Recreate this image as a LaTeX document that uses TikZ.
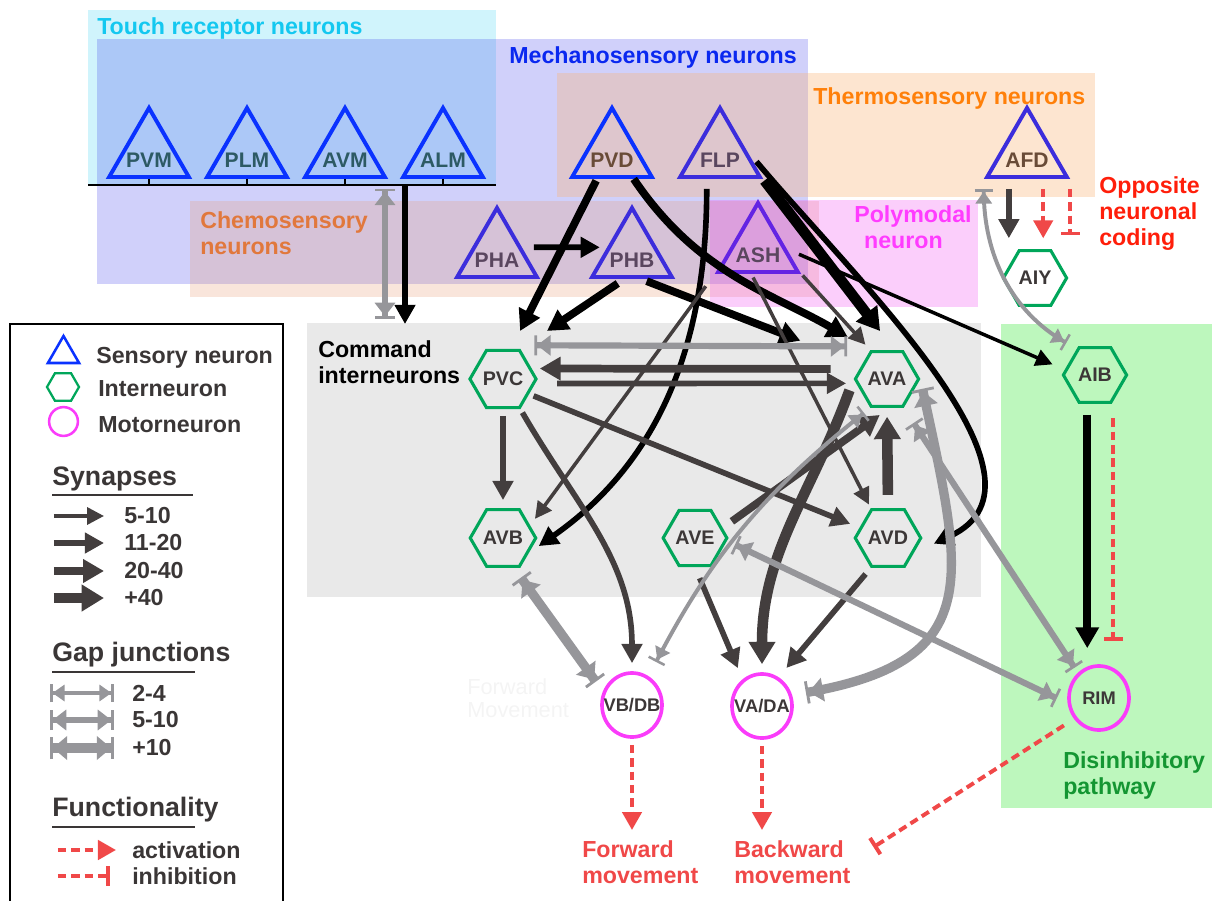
\documentclass[tikz,border=0pt]{standalone}
\usepackage{fontspec}
\setmainfont{Liberation Sans}
\usepackage{tikz}
\usetikzlibrary{shapes.geometric,arrows.meta}

\definecolor{sensblue}{RGB}{10,50,255}
\definecolor{sensviolet}{RGB}{60,45,220}
\definecolor{intgreen}{RGB}{0,166,90}
\definecolor{motmag}{RGB}{250,60,250}
\definecolor{syngray}{RGB}{67,62,62}
\definecolor{gapgray}{RGB}{150,150,154}
\definecolor{actred}{RGB}{240,72,72}
\definecolor{txtgray}{RGB}{58,54,54}
\definecolor{nodetxt}{RGB}{60,55,55}
\definecolor{tealtxt}{RGB}{45,90,100}
\definecolor{browntxt}{RGB}{105,75,55}
\definecolor{mauvetxt}{RGB}{90,70,95}
\definecolor{touchcyan}{RGB}{208,244,252}
\definecolor{touchtxt}{RGB}{20,200,240}
\definecolor{mechblue}{RGB}{54,54,234}
\definecolor{mechtxt}{RGB}{10,40,240}
\definecolor{thermoorg}{RGB}{249,179,117}
\definecolor{thermotxt}{RGB}{255,128,10}
\definecolor{chemorg}{RGB}{230,150,110}
\definecolor{chemtxt}{RGB}{225,120,60}
\definecolor{polymag}{RGB}{240,60,240}
\definecolor{polytxt}{RGB}{255,60,255}
\definecolor{cmdgray}{RGB}{233,233,233}
\definecolor{disgreen}{RGB}{189,247,189}
\definecolor{distxt}{RGB}{20,150,50}
\definecolor{opptxt}{RGB}{255,30,10}
\definecolor{ghosttxt}{RGB}{244,244,244}

\tikzset{
  sensory/.style={regular polygon, regular polygon sides=3, draw=sensblue, line width=2.8pt, minimum size=2.3cm, inner sep=0pt},
  slbl/.style={font=\fontsize{15}{18}\selectfont\bfseries, yshift=-0.15cm},
  inter/.style={regular polygon, regular polygon sides=6, draw=intgreen, line width=2.2pt, minimum size=1.58cm, inner sep=0pt, text=nodetxt, font=\fontsize{14}{16}\selectfont\bfseries},
  motor/.style={ellipse, draw=motmag, line width=2.6pt, minimum width=1.5cm, minimum height=1.6cm, inner sep=0pt},
  mlbl/.style={text=nodetxt, font=\fontsize{13}{15}\selectfont\bfseries},
  region/.style={font=\fontsize{16.5}{18.5}\selectfont\bfseries, inner sep=0pt},
  ltxt/.style={text=txtgray, font=\fontsize{16.5}{18.5}\selectfont\bfseries, inner sep=0pt},
  lhead/.style={text=txtgray, font=\fontsize{19}{22}\selectfont\bfseries, inner sep=0pt},
  uline/.style={draw=txtgray, line width=1.5pt},
  syna/.style={color=syngray, line width=2.5pt, -{Triangle[length=0.42cm,width=0.42cm]}},
  synb/.style={color=syngray, line width=4pt, -{Triangle[length=0.48cm,width=0.5cm]}},
  sync/.style={color=syngray, line width=5.5pt, -{Triangle[length=0.52cm,width=0.56cm]}},
  synd/.style={color=syngray, line width=7.5pt, -{Triangle[length=0.56cm,width=0.64cm]}},
  gapa/.style={color=gapgray, line width=2.8pt, {Bar[width=0.45cm,line width=1.8pt]Triangle[length=0.3cm,width=0.4cm]}-{Triangle[length=0.3cm,width=0.4cm]Bar[width=0.45cm,line width=1.8pt]}},
  gapb/.style={color=gapgray, line width=4.4pt, {Bar[width=0.5cm,line width=1.9pt]Triangle[length=0.34cm,width=0.5cm]}-{Triangle[length=0.34cm,width=0.5cm]Bar[width=0.5cm,line width=1.9pt]}},
  gapc/.style={color=gapgray, line width=6.6pt, {Bar[width=0.56cm,line width=2pt]Triangle[length=0.36cm,width=0.58cm]}-{Triangle[length=0.36cm,width=0.58cm]Bar[width=0.56cm,line width=2pt]}},
  act/.style={color=actred, line width=2.8pt, dash pattern=on 6pt off 3.5pt, -{Triangle[length=0.45cm,width=0.48cm]}},
  inh/.style={color=actred, line width=2.8pt, dash pattern=on 6pt off 3.5pt, -{Bar[width=0.48cm]}},
}

\begin{document}
\begin{tikzpicture}[x=0.025cm, y=-0.025cm]
\useasboundingbox (0,0) rectangle (1212,901);

\fill[touchcyan] (88,10) rectangle (496,185);
\fill[mechblue, fill opacity=0.23] (97,39) rectangle (808,284);
\fill[thermoorg, fill opacity=0.34] (557,73) rectangle (1095,197);
\fill[chemorg, fill opacity=0.25] (190,201) rectangle (819,297);
\fill[polymag, fill opacity=0.25] (710,200) rectangle (978,307);
\fill[cmdgray] (307,323) rectangle (981,597);
\fill[disgreen] (1001,324) rectangle (1212,808);

\node[region, text=touchtxt, anchor=base west] (ttouch) at (97,34) {Touch receptor neurons};
\node[region, text=mechtxt, anchor=base west] (tmech) at (509,63) {Mechanosensory neurons};
\node[region, text=thermotxt, anchor=base west] (tthermo) at (813,104) {Thermosensory neurons};
\node[region, text=chemtxt, anchor=north west, align=left] (tchem) at (200,211) {Chemosensory\\neurons};
\node[region, text=polytxt, anchor=north west, align=left] (tpoly) at (854,205) {Polymodal\\\hspace{7pt}neuron};
\node[region, text=opptxt, anchor=north west, align=left] (topp) at (1099,176) {Opposite\\neuronal\\coding};
\node[region, anchor=north west, align=left] (tcmd) at (318,340) {Command\\interneurons};
\node[region, text=distxt, anchor=north west, align=left] (tdis) at (1063,751) {Disinhibitory\\pathway};
\node[region, text=actred, anchor=north west, align=left] (fwd) at (582,840) {Forward\\movement};
\node[region, text=actred, anchor=north west, align=left] (bwd) at (734,840) {Backward\\movement};
\node[region, text=ghosttxt, anchor=north west, align=left, font=\fontsize{15.5}{17}\selectfont] (ghost) at (467,678) {Forward\\Movement};

\node[sensory, label={[slbl, text=tealtxt]center:PVM}] (PVM) at (149,154) {};
\node[sensory, label={[slbl, text=tealtxt]center:PLM}] (PLM) at (247,154) {};
\node[sensory, label={[slbl, text=tealtxt]center:AVM}] (AVM) at (345,154) {};
\node[sensory, label={[slbl, text=tealtxt]center:ALM}] (ALM) at (443,154) {};
\node[sensory, label={[slbl, text=browntxt]center:PVD}] (PVD) at (612,154) {};
\node[sensory, draw=sensviolet, label={[slbl, text=mauvetxt]center:FLP}] (FLP) at (720,154) {};
\node[sensory, draw=sensviolet, label={[slbl, text=browntxt]center:AFD}] (AFD) at (1027,154) {};
\node[sensory, draw=sensviolet, label={[slbl, text=mauvetxt]center:PHA}] (PHA) at (497,254) {};
\node[sensory, draw=sensviolet, label={[slbl, text=mauvetxt]center:PHB}] (PHB) at (632,254) {};
\node[sensory, draw=sensviolet!80!magenta, label={[slbl, text=mauvetxt]center:ASH}] (ASH) at (758,249) {};

\node[inter] (PVC) at (503,379) {PVC};
\node[inter] (AVA) at (887,379) {AVA};
\node[inter] (AVB) at (503,538) {AVB};
\node[inter] (AVE) at (695,538) {AVE};
\node[inter] (AVD) at (888,538) {AVD};
\node[inter] (AIY) at (1035,278) {AIY};
\node[inter] (AIB) at (1095,375) {AIB};

\node[motor, label={[mlbl]center:VB/DB}] (VBDB) at (632,705) {};
\node[motor, label={[mlbl]center:VA/DA}] (VADA) at (762,706) {};
\node[motor, label={[mlbl]center:RIM}] (RIM) at (1099,698) {};

\coordinate (tl) at (88,185);
\coordinate (tr) at (496,185);
\draw[line width=1.5pt] (tl) -- (tr);
\foreach \n in {PVM,PLM,AVM,ALM}
  \draw[line width=1.5pt] (\n.-90) -- (\n.-90 |- tl);
\coordinate (tg) at (385,186);
\coordinate (cg) at (385,323);
\coordinate (tb) at (405,186);
\coordinate (cb) at (405,324);
\draw[gapb, shorten <=0.07cm, shorten >=0.1cm] (tg) -- (cg);
\draw[synb, black] (tb) -- (cb);

\draw[sync, black, shorten <=0.05cm, shorten >=0.5cm] (PVD.239) -- (PVC.75);
\draw[sync, black, shorten >=0.65cm] (PVD.-49) to[out=-56, in=150] (AVA.120);
\draw[synb, black, shorten <=0.3cm, shorten >=0.18cm] (PHA.15) -- (PHB.165);
\draw[sync, black, shorten <=0.2cm, shorten >=0.8cm] (PHB.253) -- (PVC.60);
\draw[sync, black, shorten <=0.15cm, shorten >=1.65cm] (PHB.-70) -- (AVA.150);
\draw[synb, black, shorten <=0.25cm, shorten >=0.3cm] (FLP.242) to[out=-90, in=35] (AVB.-30);
\draw[syna, shorten <=0.38cm, shorten >=0.2cm] (ASH.210) -- (AVB.25);
\draw[syna, shorten <=0.1cm, shorten >=0.1cm] (ASH.255) -- (AVD.120);
\draw[syna, shorten <=0.05cm, shorten >=0.18cm] (ASH.-30) -- (AVA.120);
\draw[syna, black, shorten <=0.33cm, shorten >=0.33cm] (ASH.0) -- (AIB.170);
\draw[synd, black, shorten <=0.05cm, shorten >=0.6cm] (FLP.-30) -- (AVA.75);
\draw[synb, black, shorten <=0.4cm, shorten >=0.55cm] (FLP.10) to[out=-50, in=25] (AVD.-30);

\draw[synb, shorten <=0.25cm, shorten >=0.27cm] (AFD.234) -- (AFD.234 |- AIY.90);
\draw[act, shorten <=0.25cm, shorten >=0.27cm] (AFD.-57) -- (AFD.-57 |- AIY.90);
\draw[inh, shorten <=0.25cm, shorten >=0.34cm] (AFD.-30) -- (AFD.-30 |- AIY.90);
\draw[gapa, shorten <=0.25cm, shorten >=0.3cm] (AFD.210) to[out=-90, in=150] (AIB.125);

\draw[gapb, shorten <=0.35cm, shorten >=0.58cm] ([yshift=0.09cm]PVC.60) -- ([yshift=0.09cm]AVA.120);
\draw[sync, shorten <=0.72cm, shorten >=0.2cm] (AVA.160) -- (PVC.20);
\draw[synb, shorten <=0.55cm, shorten >=0.25cm] (PVC.-8) -- (AVA.188);
\draw[synb, shorten <=0.17cm, shorten >=0.2cm] (PVC.-90) -- (AVB.90);
\draw[synb, shorten <=0.12cm, shorten >=0.25cm] (PVC.-30) -- (AVD.160);
\draw[synb, shorten <=0.1cm, shorten >=0.2cm] (PVC.-60) to[out=-60, in=90] (VBDB.90);

\draw[synd, shorten <=0.3cm, shorten >=0.2cm] (AVA.180) to[out=-110, in=90] (VADA.90);
\draw[sync, shorten <=0.28cm, shorten >=0.3cm] (AVE.20) -- (AVA.275);
\draw[synd, shorten <=0.33cm, shorten >=0.22cm] (AVD.90) -- (AVA.-90);
\draw[synb, shorten <=0.3cm, shorten >=0.3cm] (AVE.-90) -- (VADA.126);
\draw[synb, shorten <=0.2cm, shorten >=0.3cm] (AVD.240) -- (VADA.60);

\draw[gapc, shorten <=0.3cm, shorten >=0.3cm] (AVB.-70) -- (VBDB.155);
\draw[gapa, shorten <=0.2cm, shorten >=0.4cm] (AVA.240) to[bend right=12] (VBDB.60);
\draw[gapb, shorten <=0.22cm, shorten >=0.3cm] (AVE.-5) -- (RIM.190);
\draw[gapb, shorten <=0.15cm, shorten >=0.45cm] (RIM.130) -- (AVA.-60);
\draw[gapc, shorten <=0.35cm, shorten >=0.25cm] (VADA.20) to[out=10, in=-78, looseness=1.5] (AVA.0);

\draw[sync, black, shorten <=0.27cm, shorten >=0.4cm] (AIB.-105) -- (AIB.-105 |- RIM.90);
\draw[inh, shorten <=0.43cm, shorten >=0.58cm] (AIB.-55) -- (AIB.-55 |- RIM.90);
\draw[inh, shorten <=0.3cm, shorten >=0.68cm] (RIM.220) -- (bwd.east);
\draw[act, shorten <=0.15cm, shorten >=0.25cm] (VBDB.-90) -- (VBDB.-90 |- fwd.north);
\draw[act, shorten <=0.15cm, shorten >=0.25cm] (VADA.-90) -- (VADA.-90 |- bwd.north);

% legend
\draw[line width=1.4pt, fill=white] (10,324) rectangle (283,915);
\node[sensory, minimum size=0.9cm, line width=1.8pt] (lsens) at (63.5,354) {};
\node[inter, minimum size=0.8cm, line width=1.6pt] (linter) at (63,387) {};
\node[motor, minimum width=0.72cm, minimum height=0.72cm, line width=1.8pt] (lmotor) at (63.5,421.5) {};
\node[ltxt, anchor=base west] (tsens) at (96,363) {Sensory neuron};
\node[ltxt, anchor=base west] (tinter) at (98,396) {Interneuron};
\node[ltxt, anchor=base west] (tmotor) at (98,432) {Motorneuron};

\node[lhead, anchor=base west] (hsyn) at (52,485) {Synapses};
\draw[uline] (52,495) -- (193,495);
\node[ltxt, anchor=west] (s1) at (124,516) {5-10};
\node[ltxt, anchor=west] (s2) at (124,543) {11-20};
\node[ltxt, anchor=west] (s3) at (124,571) {20-40};
\node[ltxt, anchor=west] (s4) at (124,598) {+40};
\draw[syna] ([xshift=-1.75cm]s1.west) -- ([xshift=-0.5cm]s1.west);
\draw[synb] ([xshift=-1.75cm]s2.west) -- ([xshift=-0.5cm]s2.west);
\draw[sync] ([xshift=-1.75cm]s3.west) -- ([xshift=-0.5cm]s3.west);
\draw[synd] ([xshift=-1.75cm]s4.west) -- ([xshift=-0.5cm]s4.west);

\node[lhead, anchor=base west] (hgap) at (52,661) {Gap junctions};
\draw[uline] (52,672) -- (195,672);
\node[ltxt, anchor=west] (g1) at (132,693) {2-4};
\node[ltxt, anchor=west] (g2) at (132,720) {5-10};
\node[ltxt, anchor=west] (g3) at (132,748) {+10};
\draw[gapa] ([xshift=-2.05cm]g1.west) -- ([xshift=-0.45cm]g1.west);
\draw[gapb] ([xshift=-2.05cm]g2.west) -- ([xshift=-0.45cm]g2.west);
\draw[gapc] ([xshift=-2.05cm]g3.west) -- ([xshift=-0.45cm]g3.west);

\node[lhead, anchor=base west] (hfun) at (52,816) {Functionality};
\draw[uline] (52,827) -- (195,827);
\node[ltxt, anchor=west] (f1) at (132,850) {activation};
\node[ltxt, anchor=west] (f2) at (132,876) {inhibition};
\draw[act] ([xshift=-1.85cm]f1.west) -- ([xshift=-0.4cm]f1.west);
\draw[inh] ([xshift=-1.85cm]f2.west) -- ([xshift=-0.55cm]f2.west);
\end{tikzpicture}
\end{document}
